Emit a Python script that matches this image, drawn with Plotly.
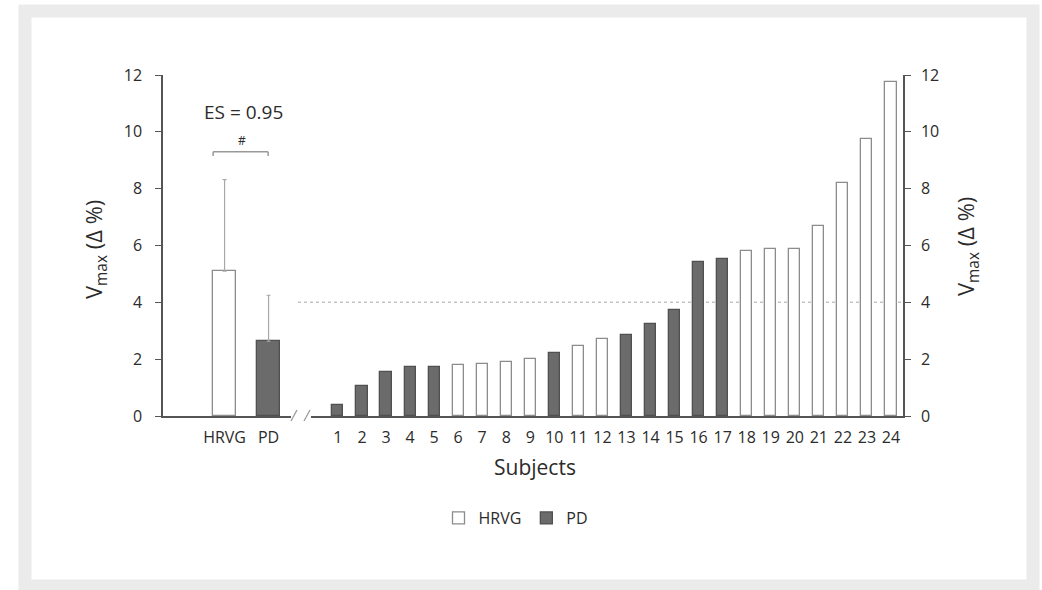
import plotly.graph_objects as go

# ---- data ----
group_labels = ["HRVG", "PD"]
group_means = [5.1, 2.63]
group_sd = [3.22, 1.62]

subjects = list(range(1, 25))
subject_values = [0.4, 1.05, 1.55, 1.73, 1.73, 1.78, 1.82, 1.9, 2.02, 2.22,
                  2.46, 2.7, 2.85, 3.25, 3.72, 5.43, 5.53, 5.82, 5.87, 5.87,
                  6.68, 8.2, 9.76, 11.77]
subject_group = ["PD"] * 5 + ["HRVG"] * 4 + ["PD"] + ["HRVG"] * 2 + ["PD"] * 5 + ["HRVG"] * 7

threshold = 4
effect_text = "ES = 0.95"
bracket_ends = [-0.26, 0.99]
bracket_level = 9.3

# ---- geometry helpers (pixels -> paper) ----
L, R, T, B = 163, 903, 75, 416
W = R - L
H = B - T
def px(x):
    return (x - L) / W
def py(y):
    return (B - y) / H

white_fill, white_line = "#ffffff", "#8c8c8c"
grey_fill, grey_line = "#6b6b6b", "#505050"
axis_col = "#555555"
txt_col = "#2b2b2b"
font_family = "Open Sans, Noto Sans, sans-serif"

fig = go.Figure()

# left panel group bars
for i, (lab, m, s) in enumerate(zip(group_labels, group_means, group_sd)):
    is_pd = lab == "PD"
    fig.add_trace(go.Bar(
        x=[i], y=[m], width=0.52, xaxis="x", yaxis="y", showlegend=False,
        marker=dict(color=grey_fill if is_pd else white_fill,
                    line=dict(color=grey_line if is_pd else white_line, width=1.3)),
        error_y=dict(type="data", symmetric=False, array=[s], arrayminus=[0],
                     color="#a8a8a8", thickness=1.2, width=2),
    ))

# right panel subject bars (split by group for legend)
for grp in ["HRVG", "PD"]:
    xs = [s for s, g in zip(subjects, subject_group) if g == grp]
    ys = [v for v, g in zip(subject_values, subject_group) if g == grp]
    is_pd = grp == "PD"
    fig.add_trace(go.Bar(
        x=xs, y=ys, width=0.46, xaxis="x2", yaxis="y2", name=grp,
        marker=dict(color=grey_fill if is_pd else white_fill,
                    line=dict(color=grey_line if is_pd else white_line, width=1.3)),
    ))

shapes = []
# outer frame
shapes.append(dict(type="rect", xref="paper", yref="paper",
                   x0=px(25), x1=px(1033), y0=py(586), y1=py(11),
                   line=dict(color="#ebebeb", width=13), fillcolor="rgba(0,0,0,0)", layer="below"))
# threshold dotted line
shapes.append(dict(type="line", xref="paper", yref="y2", x0=px(298), x1=1,
                   y0=threshold, y1=threshold,
                   line=dict(color="#c4c4c4", width=1.5, dash="dot"), layer="below"))
# axis break slashes
for x0 in (291, 304):
    shapes.append(dict(type="line", xref="paper", yref="paper",
                       x0=px(x0), x1=px(x0 + 6), y0=py(421), y1=py(410),
                       line=dict(color="#9a9a9a", width=1.3)))
# significance bracket
shapes.append(dict(type="line", xref="x", yref="y", x0=bracket_ends[0], x1=bracket_ends[1],
                   y0=bracket_level, y1=bracket_level, line=dict(color="#999999", width=1.5)))
for xe in bracket_ends:
    shapes.append(dict(type="line", xref="x", yref="y", x0=xe, x1=xe,
                       y0=bracket_level, y1=bracket_level - 0.15, line=dict(color="#999999", width=1.5)))

annotations = [
    dict(text=effect_text, xref="x", yref="paper", x=0.44, y=py(112), showarrow=False,
         xanchor="center", yanchor="middle",
         font=dict(size=19, color=txt_col, family=font_family)),
    dict(text="#", xref="x", yref="paper", x=0.39, y=py(140), showarrow=False,
         xanchor="center", yanchor="middle",
         font=dict(size=12, color=txt_col, family=font_family)),
    dict(text="V<sub>max</sub> (Δ %)", xref="paper", yref="paper", x=px(95), y=py(250),
         xanchor="center", yanchor="middle",
         textangle=-90, showarrow=False, font=dict(size=22, color=txt_col, family=font_family)),
    dict(text="V<sub>max</sub> (Δ %)", xref="paper", yref="paper", x=px(967), y=py(247),
         xanchor="center", yanchor="middle",
         textangle=-90, showarrow=False, font=dict(size=22, color=txt_col, family=font_family)),
    dict(text="Subjects", xref="paper", yref="paper", x=px(535), y=py(467), showarrow=False,
         xanchor="center", yanchor="middle",
         font=dict(size=21, color=txt_col, family=font_family)),
]

axis_common = dict(showgrid=False, zeroline=False, showline=True, linecolor=axis_col, linewidth=1.5,
                   tickfont=dict(size=16, color=txt_col, family=font_family))

fig.update_layout(
    width=1042, height=590,
    margin=dict(l=L, r=1042 - R, t=T, b=590 - B),
    paper_bgcolor="white", plot_bgcolor="white",
    bargap=0,
    xaxis=dict(domain=[0, px(291)], range=[-1.4, 1.51], tickvals=[0, 1], ticktext=group_labels,
               ticks="", anchor="y", ticklabelstandoff=6, **axis_common),
    xaxis2=dict(domain=[px(311), 1], range=[-0.12, 24.5], tickvals=subjects,
                ticktext=[str(s) for s in subjects], ticks="", anchor="y2",
                ticklabelstandoff=6, **axis_common),
    yaxis=dict(range=[0, 12], dtick=2, ticks="outside", ticklen=6, tickcolor=axis_col,
               anchor="x", side="left", ticklabelstandoff=10, **axis_common),
    yaxis2=dict(range=[0, 12], dtick=2, ticks="outside", ticklen=6, tickcolor=axis_col,
                anchor="x2", side="right", ticklabelstandoff=7, **axis_common),
    shapes=shapes,
    annotations=annotations,
    legend=dict(orientation="h", x=px(516), xanchor="center", y=py(518), yanchor="middle",
                font=dict(size=16, color=txt_col, family=font_family), itemwidth=30,
                traceorder="normal"),
    showlegend=True,
)

fig.write_html("out.html", config={"displayModeBar": False},
               post_script="document.body.style.margin='0px';document.body.style.overflow='hidden';")
